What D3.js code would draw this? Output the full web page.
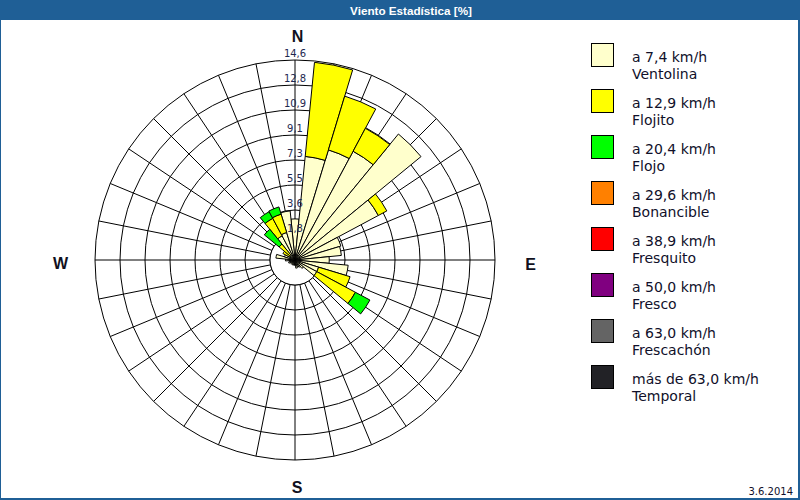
<!DOCTYPE html>
<html>
<head>
<meta charset="utf-8">
<script src="https://cdn.jsdelivr.net/npm/d3@7"></script>
<style>
  html, body { margin: 0; padding: 0; background: #ffffff; }
  svg { display: block; }
</style>
</head>
<body>
<svg id="chart" width="800" height="500"></svg>
<script>
// ---- DATA ----
const directions = ["N","NbE","NNE","NEbN","NE","NEbE","ENE","EbN","E","EbS","ESE","SEbE","SE","SEbS","SSE","SbE",
                    "S","SbW","SSW","SWbS","SW","SWbW","WSW","WbS","W","WbN","WNW","NWbW","NW","NWbN","NNW","NbW"];
const ventolina  = [3.0, 7.6, 8.4, 9.0, 11.9, 6.9, 3.5, 3.4, 2.5, 3.9, 1.8, 1.8, 0.8, 0.6, 0.5, 0.6,
                    0.4, 0.3, 0.4, 0.3, 0.4, 0.3, 0.5, 0.4, 0.7, 1.4, 0.8, 0.5, 0.5, 2.0, 2.1, 3.6];
const flojito    = [0, 6.9, 4.1, 1.9, 0, 0.7, 0, 0, 0, 0, 2.4, 3.2, 0, 0, 0, 0,
                    0, 0, 0, 0, 0, 0, 0, 0, 0, 0, 0, 0.5, 1.0, 1.45, 1.4, 0];
const flojo      = [0, 0, 0, 0, 0, 0, 0, 0, 0, 0, 0, 1.2, 0, 0, 0, 0,
                    0, 0, 0, 0, 0, 0, 0, 0, 0, 0, 0, 0, 1.4, 0.55, 0.55, 0];
const bonancible = new Array(32).fill(0);
const fresquito  = new Array(32).fill(0);
const fresco     = new Array(32).fill(0);
const frescachon = new Array(32).fill(0);
const temporal   = new Array(32).fill(0);

const seriesKeys   = ["Ventolina","Flojito","Flojo","Bonancible","Fresquito","Fresco","Frescachón","Temporal"];
const seriesValues = [ventolina, flojito, flojo, bonancible, fresquito, fresco, frescachon, temporal];
const legendRanges = ["a 7,4 km/h","a 12,9 km/h","a 20,4 km/h","a 29,6 km/h","a 38,9 km/h","a 50,0 km/h","a 63,0 km/h","más de 63,0 km/h"];
const seriesColors = ["#ffffcc","#ffff00","#00ff00","#ff8000","#ff0000","#800080","#646464","#222226"];

const ringValues = [1.825, 3.65, 5.475, 7.3, 9.125, 10.95, 12.775, 14.6];
const ringLabels = ["1,8","3,6","5,5","7,3","9,1","10,9","12,8","14,6"];
const maxValue = 14.6;
const titleText = "Viento Estadística [%]";
const dateText = "3.6.2014";

// ---- LAYOUT ----
const W = 800, H = 500;
const cx = 295, cy = 260, R = 200;
const blue = "#1f5f96";
const svg = d3.select("#chart");

svg.append("rect").attr("x",0).attr("y",0).attr("width",W).attr("height",H).attr("fill","#fff");
// title bar
svg.append("rect").attr("x",0).attr("y",0).attr("width",W).attr("height",20).attr("fill",blue);
svg.append("text").attr("x",411).attr("y",14.5).attr("text-anchor","middle")
  .attr("font-family","Liberation Sans, Arial, sans-serif").attr("font-weight","bold")
  .attr("font-size","11.7px").attr("fill","#ffffff").text(titleText);
// frame
svg.append("rect").attr("x",0.5).attr("y",19.5).attr("width",W-1).attr("height",H-20)
  .attr("fill","none").attr("stroke",blue).attr("stroke-width",1);
svg.append("line").attr("x1",0).attr("x2",W).attr("y1",H-1).attr("y2",H-1).attr("stroke",blue).attr("stroke-width",2);
svg.append("line").attr("x1",W-1).attr("x2",W-1).attr("y1",20).attr("y2",H).attr("stroke",blue).attr("stroke-width",2);

const r = d3.scaleLinear().domain([0, maxValue]).range([0, R]);
const step = 2 * Math.PI / directions.length;
const angle = d3.scaleBand().domain(directions).range([-step/2, 2*Math.PI - step/2]).padding(0);

const g = svg.append("g").attr("transform", `translate(${cx},${cy})`);

// grid spokes
const innerR = r(ringValues[0]);
g.append("g").selectAll("line").data(directions).join("line")
  .attr("x1", d => innerR * Math.sin(angle(d) + step/2))
  .attr("y1", d => -innerR * Math.cos(angle(d) + step/2))
  .attr("x2", d => R * Math.sin(angle(d) + step/2))
  .attr("y2", d => -R * Math.cos(angle(d) + step/2))
  .attr("stroke","#000").attr("stroke-width",1);
// grid rings
g.append("g").selectAll("circle").data(ringValues).join("circle")
  .attr("r", d => r(d)).attr("fill","none").attr("stroke","#000").attr("stroke-width",1);
g.append("circle").attr("r", innerR).attr("fill","#fff").attr("stroke","#000").attr("stroke-width",1);

// stacked bars
const table = directions.map((d, i) => {
  const row = { dir: d };
  seriesKeys.forEach((k, j) => row[k] = seriesValues[j][i]);
  return row;
});
const stack = d3.stack().keys(seriesKeys)(table);
const arc = d3.arc()
  .innerRadius(d => r(d[0]))
  .outerRadius(d => r(d[1]))
  .startAngle(d => angle(d.data.dir))
  .endAngle(d => angle(d.data.dir) + angle.bandwidth());

const barG = g.append("g");
stack.forEach((layer, j) => {
  barG.append("g").selectAll("path")
    .data(layer.filter(d => d[1] - d[0] > 0))
    .join("path")
    .attr("d", arc)
    .attr("fill", seriesColors[j])
    .attr("stroke", "#000")
    .attr("stroke-width", 1)
    .attr("stroke-linejoin", "miter");
});

// ring labels
g.append("g").selectAll("text").data(ringValues).join("text")
  .attr("x", 0).attr("y", (d) => -r(d) - 3)
  .attr("text-anchor","middle")
  .attr("font-family","DejaVu Sans, Verdana, sans-serif").attr("font-size","10px")
  .attr("fill","#1e2850")
  .text((d, i) => ringLabels[i]);

// compass labels
const compass = [
  { t: "N", x: cx + 2.5, y: 42 },
  { t: "E", x: cx + 235.5, y: 270 },
  { t: "S", x: cx + 2, y: 493 },
  { t: "W", x: cx - 234.5, y: 269 }
];
svg.append("g").selectAll("text").data(compass).join("text")
  .attr("x", d => d.x).attr("y", d => d.y).attr("text-anchor","middle")
  .attr("font-family","Liberation Sans, Arial, sans-serif").attr("font-weight","bold")
  .attr("font-size","16px").attr("fill","#101020").text(d => d.t);

// legend
const lg = svg.append("g");
seriesKeys.forEach((k, i) => {
  const y0 = 43 + 46 * i;
  lg.append("rect").attr("x", 591.5).attr("y", y0 + 0.5).attr("width", 22).attr("height", 23)
    .attr("fill", seriesColors[i]).attr("stroke", "#000").attr("stroke-width", 1);
  lg.append("text").attr("x", 632).attr("y", y0 + 19)
    .attr("font-family","DejaVu Sans, Verdana, sans-serif").attr("font-size","14px")
    .attr("fill","#10102a").text(legendRanges[i]);
  lg.append("text").attr("x", 632).attr("y", y0 + 36)
    .attr("font-family","DejaVu Sans, Verdana, sans-serif").attr("font-size","14px")
    .attr("fill","#10102a").text(k);
});

// date
svg.append("text").attr("x", 793).attr("y", 495).attr("text-anchor","end")
  .attr("font-family","DejaVu Sans, Verdana, sans-serif").attr("font-size","10px")
  .attr("fill","#10102a").text(dateText);
</script>
</body>
</html>
